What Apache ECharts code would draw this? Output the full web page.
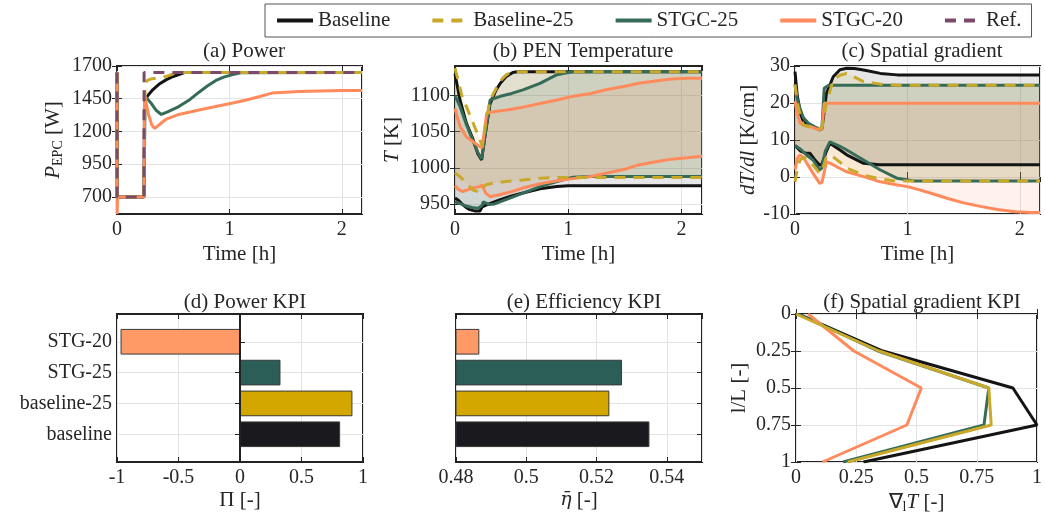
<!DOCTYPE html>
<html>
<head>
<meta charset="utf-8">
<script src="https://cdn.jsdelivr.net/npm/echarts@6/dist/echarts.min.js"></script>
<style>
  html, body { margin: 0; padding: 0; background: #fff; }
  #chart { width: 1045px; height: 522px; }
</style>
</head>
<body>
<div id="chart"></div>
<script>
// ---------- data ----------
// (a) power [W] over time [h]
const tA_ref = [0, 0.001, 0.24, 0.241, 2.18];
const pA_ref = [1650, 700, 700, 1650, 1650];
const tA_base = [0, 0.002, 0.24, 0.245, 0.28, 0.32, 0.38, 0.44, 0.5, 0.55, 0.6, 2.18];
const pA_base = [1650, 700, 700, 1440, 1480, 1520, 1565, 1596, 1620, 1635, 1650, 1650];
const tA_b25 = [0, 0.002, 0.24, 0.25, 0.27, 0.3, 0.35, 0.4, 0.45, 0.5, 0.55, 2.18];
const pA_b25 = [1650, 700, 700, 1560, 1590, 1600, 1607, 1612, 1625, 1640, 1650, 1650];
const tA_s25 = [0, 0.002, 0.24, 0.25, 0.3, 0.35, 0.395, 0.45, 0.55, 0.65, 0.73, 0.8, 0.88, 0.95, 1.02, 1.1, 2.18];
const pA_s25 = [1650, 700, 700, 1470, 1420, 1360, 1330, 1350, 1390, 1445, 1500, 1545, 1590, 1615, 1632, 1648, 1650];
const tA_s20 = [0, 0.001, 0.005, 0.02, 0.24, 0.245, 0.28, 0.31, 0.336, 0.38, 0.44, 0.55, 0.73, 0.9, 1.03, 1.15, 1.27, 1.38, 1.5, 1.62, 1.8, 2.0, 2.18];
const pA_s20 = [1650, 570, 700, 700, 700, 1480, 1330, 1250, 1223, 1255, 1295, 1330, 1364, 1395, 1418, 1440, 1467, 1493, 1500, 1506, 1510, 1513, 1513];

// (b) PEN temperature [K]: upper / lower envelope per case
const tB_baseHi = [0, 0.044, 0.1, 0.16, 0.2, 0.235, 0.27, 0.31, 0.36, 0.4, 0.45, 0.51, 0.55, 2.18];
const vB_baseHi = [1130, 1094, 1062, 1039, 1020, 1011, 1050, 1089, 1107, 1117, 1126, 1132, 1133, 1133];
const tB_baseLo = [0, 0.03, 0.06, 0.1, 0.13, 0.18, 0.22, 0.24, 0.27, 0.3, 0.4, 0.5, 0.6, 0.75, 0.9, 1.0, 2.18];
const vB_baseLo = [958, 955, 950, 945, 942, 940, 940, 946, 948, 950, 956, 961, 965, 971, 974, 975, 975];
const tB_b25Hi = [0, 0.03, 0.06, 0.1, 0.16, 0.22, 0.24, 0.28, 0.31, 0.37, 0.42, 0.455, 0.5, 2.18];
const vB_b25Hi = [1138, 1120, 1100, 1085, 1062, 1039, 1030, 1070, 1094, 1112, 1124, 1129, 1133, 1133];
const tB_b25Lo = [0, 0.04, 0.1, 0.16, 0.22, 0.24, 0.28, 0.35, 0.45, 0.6, 0.75, 0.9, 2.18];
const vB_b25Lo = [993, 988, 979, 969, 966, 972, 977, 979, 981, 983, 985.5, 986.5, 986.5];
const tB_s25Hi = [0, 0.044, 0.1, 0.16, 0.2, 0.235, 0.27, 0.31, 0.4, 0.5, 0.6, 0.75, 0.9, 1.0, 1.04, 2.18];
const vB_s25Hi = [1100, 1085, 1060, 1037, 1022, 1012, 1050, 1094, 1099, 1103, 1108, 1117, 1129, 1132, 1133, 1133];
const tB_s25Lo = [0, 0.05, 0.1, 0.15, 0.2, 0.235, 0.25, 0.3, 0.35, 0.45, 0.6, 0.75, 0.9, 1.04, 1.2, 2.18];
const vB_s25Lo = [953, 950, 947, 945, 944, 947, 953, 949, 950, 956, 965, 974, 981, 987, 988, 988];
const tB_s20Hi = [0, 0.02, 0.045, 0.1, 0.16, 0.22, 0.24, 0.28, 0.35, 0.455, 0.6, 0.75, 0.9, 1.04, 1.2, 1.33, 1.5, 1.62, 1.8, 1.91, 2.05, 2.18];
const vB_s20Hi = [1082, 1070, 1057, 1043, 1036, 1029, 1028, 1076, 1078, 1080, 1084, 1089, 1094, 1099, 1103, 1108, 1113, 1117, 1121, 1123, 1124, 1124];
const tB_s20Lo = [0, 0.03, 0.07, 0.12, 0.16, 0.22, 0.24, 0.27, 0.31, 0.4, 0.5, 0.6, 0.75, 0.9, 1.04, 1.2, 1.33, 1.5, 1.62, 1.8, 1.91, 2.05, 2.18];
const vB_s20Lo = [975, 970, 967, 970, 972, 974, 976, 965, 960, 963, 967, 972, 978, 982, 985, 988, 992.5, 998, 1004, 1009, 1012, 1014, 1016];

// (c) spatial gradient [K/cm]: upper / lower envelope per case
const tC_baseHi = [0, 0.02, 0.05, 0.075, 0.12, 0.18, 0.22, 0.24, 0.28, 0.34, 0.4, 0.46, 0.53, 0.61, 0.76, 0.91, 2.18];
const vC_baseHi = [28.5, 22, 17, 15, 14, 13.3, 12.7, 13, 22.6, 27.1, 29, 29.4, 29.3, 28.9, 28, 27.6, 27.6];
const tC_baseLo = [0, 0.05, 0.09, 0.134, 0.18, 0.22, 0.24, 0.28, 0.31, 0.4, 0.46, 0.61, 0.75, 2.18];
const vC_baseLo = [8.5, 7, 6.5, 6.4, 4.5, 3.2, 3.5, 7, 9.1, 7.3, 6, 3.7, 3.3, 3.3];
const tC_b25Hi = [0, 0.02, 0.045, 0.075, 0.12, 0.18, 0.22, 0.24, 0.28, 0.34, 0.4, 0.46, 0.53, 0.61, 0.76, 0.9, 2.18];
const vC_b25Hi = [25, 20, 17, 14, 13.6, 13.3, 13, 13.5, 20, 26.2, 27.5, 28, 27, 25.8, 25.1, 24.8, 24.8];
const tC_b25Lo = [0, 0.02, 0.045, 0.08, 0.12, 0.16, 0.22, 0.24, 0.28, 0.32, 0.4, 0.46, 0.61, 0.76, 0.9, 2.18];
const vC_b25Lo = [-1.3, 2, 4.6, 5.4, 4.3, 3.2, 1, 1.5, 5.5, 5.9, 4, 2.4, 0.5, -0.5, -1.1, -1.1];
const tC_s25Hi = [0, 0.02, 0.05, 0.075, 0.12, 0.18, 0.22, 0.24, 0.26, 0.3, 2.18];
const vC_s25Hi = [25, 21, 18, 16, 14.5, 13.5, 13, 13.5, 24, 24.8, 24.8];
const tC_s25Lo = [0, 0.05, 0.1, 0.16, 0.22, 0.24, 0.27, 0.31, 0.4, 0.46, 0.61, 0.76, 0.91, 1.06, 2.18];
const vC_s25Lo = [8.5, 7.5, 6, 4.6, 1.9, 2.5, 7, 9.5, 8.3, 7.3, 4.6, 1.9, -0.35, -1.1, -1.1];
const tC_s20Hi = [0, 0.02, 0.045, 0.08, 0.15, 0.22, 0.24, 0.26, 2.18];
const vC_s20Hi = [20.5, 17, 14.5, 14, 13.5, 12.7, 13, 19.9, 19.9];
const tC_s20Lo = [0, 0.02, 0.045, 0.08, 0.12, 0.16, 0.22, 0.24, 0.28, 0.32, 0.4, 0.46, 0.61, 0.76, 0.9, 1.0, 1.1, 1.21, 1.36, 1.5, 1.66, 1.8, 1.96, 2.1, 2.18];
const vC_s20Lo = [2, 5, 6, 5, 3, 1, -1.7, -1.5, 4.1, 3.6, 2.3, 1.4, 0.1, -1.3, -2.1, -2.6, -3.4, -4.4, -5.8, -7, -8, -8.8, -9.4, -9.6, -9.6];

// (d), (e) KPIs, bottom to top
const kpiNames = ['baseline', 'baseline-25', 'STG-25', 'STG-20'];
const kpiPos = [1, 2, 3, 4];
const powerKpi = [0.81, 0.91, 0.325, -0.967];
const effKpi = [0.5349, 0.5235, 0.5271, 0.4865];

// (f) spatial gradient KPI along l/L
const lPos = [0, 0.25, 0.5, 0.75, 1];
const gBase = [0.01, 0.36, 0.9, 1.0, 0.28];
const gB25 = [0, 0.345, 0.8, 0.81, 0.215];
const gS25 = [0.01, 0.34, 0.8, 0.78, 0.195];
const gS20 = [0.05, 0.24, 0.52, 0.46, 0.11];

// tick labels
const powerTicks = [700, 950, 1200, 1450, 1700];
const tempTicks = [950, 1000, 1050, 1100];

// ---------- styling ----------
const FONT = 'Liberation Serif';
const INK = '#262626';
const C_BASE = '#141414', C_B25 = '#c9a92a', C_S25 = '#366b58', C_S20 = '#ff8a5c', C_REF = '#7b4a6b';
const kpiColors = ['#1a1a1e', '#d4a600', '#2a5e56', '#ff9a66'];
const BAND = {
  base: 'rgba(60,60,60,0.13)',
  b25: 'rgba(201,169,42,0.12)',
  s25: 'rgba(54,107,88,0.12)',
  s20: 'rgba(255,138,92,0.12)'
};
const BAR_H = 0.8;
const EFF_MIN = 0.48;

const chart = echarts.init(document.getElementById('chart'), null, { renderer: 'canvas' });

const pairs = (t, v) => t.map((x, i) => [x, v[i]]);

function line(name, gi, t, v, color, dashed, z) {
  return {
    type: 'line', name, xAxisIndex: gi, yAxisIndex: gi,
    data: pairs(t, v), symbol: 'none', showSymbol: false, silent: true, z: z || 3,
    lineStyle: { color, width: 3, type: dashed ? [11, 8] : 'solid' },
    itemStyle: { color }
  };
}

// shaded band between an upper and a lower curve
function band(gi, tHi, hi, tLo, lo, fill) {
  return {
    type: 'custom', xAxisIndex: gi, yAxisIndex: gi, silent: true, z: 1,
    data: [[tHi[0], hi[0]]],
    renderItem: (params, api) => {
      const pts = tHi.map((t, i) => api.coord([t, hi[i]]));
      for (let i = tLo.length - 1; i >= 0; i--) pts.push(api.coord([tLo[i], lo[i]]));
      return { type: 'polygon', shape: { points: pts }, style: { fill } };
    }
  };
}

function bars(gi, vals, base, extra) {
  return Object.assign({
    type: 'custom', xAxisIndex: gi, yAxisIndex: gi, silent: true, z: 3,
    encode: { x: 0, y: 1 },
    data: kpiPos.map((p, i) => [vals[i], p, i]),
    renderItem: (params, api) => {
      const v = api.value(0), p = api.value(1), i = api.value(2);
      const a = api.coord([base, p + BAR_H / 2]);
      const b = api.coord([v, p - BAR_H / 2]);
      return {
        type: 'rect',
        shape: { x: Math.min(a[0], b[0]), y: a[1], width: Math.abs(b[0] - a[0]), height: b[1] - a[1] },
        style: { fill: kpiColors[i], stroke: '#3a3a3a', lineWidth: 1 }
      };
    }
  }, extra || {});
}

const txt = { fontFamily: FONT, fontSize: 20, color: INK };
const txtBig = { fontFamily: FONT, fontSize: 21, color: INK };
const rich = {
  i: { fontFamily: FONT, fontSize: 21, color: INK, fontStyle: 'italic' },
  e: { fontFamily: 'DejaVu Serif', fontSize: 19, color: INK, fontStyle: 'italic' },
  s: { fontFamily: FONT, fontSize: 14, color: INK, padding: [10, 0, 0, 0] }
};
const TICK = { show: true, inside: true, length: 5, lineStyle: { color: INK, width: 1 } };

function axis(opts) {
  return Object.assign({
    type: 'value',
    nameLocation: 'middle',
    nameTextStyle: Object.assign({}, txtBig, { rich }),
    axisLine: { show: false },
    axisTick: TICK,
    axisLabel: Object.assign({}, txt, { margin: 6 }),
    splitLine: { show: true, lineStyle: { color: '#e3e3e3', width: 1 } }
  }, opts);
}

// MATLAB-style box: same scale mirrored on top / right, ticks only
function mirror(ax, position) {
  return Object.assign({}, ax, {
    position, name: '',
    axisLabel: Object.assign({}, ax.axisLabel, { show: false }),
    splitLine: { show: false }
  });
}

const grids = [
  { left: 117, top: 66, width: 245, height: 148 },
  { left: 455, top: 66, width: 247, height: 148 },
  { left: 795, top: 66, width: 245, height: 148 },
  { left: 117, top: 314, width: 246, height: 148 },
  { left: 456, top: 314, width: 246, height: 148 },
  { left: 796, top: 314, width: 243, height: 148 }
].map(g => Object.assign(g, { show: true, borderColor: '#222', borderWidth: 2, backgroundColor: '#fff' }));

const timeX = gi => axis({ gridIndex: gi, min: 0, max: 2.18, interval: 1, name: 'Time [h]', nameGap: 30 });
const plain = v => String(v);

const xAxes = [
  timeX(0), timeX(1), timeX(2),
  axis({ gridIndex: 3, min: -1, max: 1, interval: 0.5, name: 'Π [-]', nameGap: 28 }),
  axis({ gridIndex: 4, min: EFF_MIN, max: 0.55, interval: 0.02, name: '{e|η̄} [-]', nameGap: 28,
    axisLabel: Object.assign({}, txt, { margin: 6, showMaxLabel: false }) }),
  axis({ gridIndex: 5, min: 0, max: 1, interval: 0.25, name: '∇{s|l}{i|T} [-]', nameGap: 28 })
];

const yAxes = [
  axis({ gridIndex: 0, min: 570, max: 1700, name: '{i|P}{s|EPC} [W]', nameGap: 52,
    axisLabel: Object.assign({}, txt, { margin: 5, customValues: powerTicks, formatter: plain }),
    axisTick: Object.assign({}, TICK, { customValues: powerTicks }) }),
  axis({ gridIndex: 1, min: 936, max: 1141, name: '{i|T} [K]', nameGap: 52,
    axisLabel: Object.assign({}, txt, { margin: 5, customValues: tempTicks, formatter: plain }),
    axisTick: Object.assign({}, TICK, { customValues: tempTicks }) }),
  axis({ gridIndex: 2, min: -10, max: 30, interval: 10, name: '{i|dT/dl} [K/cm]', nameGap: 36,
    axisLabel: Object.assign({}, txt, { margin: 5 }) }),
  axis({ gridIndex: 3, min: 0.1, max: 4.9,
    axisLabel: Object.assign({}, txt, { margin: 5, customValues: kpiPos, formatter: v => kpiNames[Math.round(v) - 1] }),
    axisTick: Object.assign({}, TICK, { customValues: kpiPos }) }),
  axis({ gridIndex: 4, min: 0.1, max: 4.9,
    axisLabel: { show: false, customValues: kpiPos },
    axisTick: Object.assign({}, TICK, { customValues: kpiPos }) }),
  axis({ gridIndex: 5, min: 0, max: 1, interval: 0.25, inverse: true, name: 'l/L [-]', nameGap: 46,
    axisLabel: Object.assign({}, txt, { margin: 5 }) })
];

const allX = xAxes.concat(xAxes.map(a => mirror(a, 'top')));
const allY = yAxes.concat(yAxes.map(a => mirror(a, 'right')));

const titles = [
  ['(a) Power', 239, 36], ['(b) PEN Temperature', 578, 36], ['(c) Spatial gradient', 917, 36],
  ['(d) Power KPI', 240, 287], ['(e) Efficiency KPI', 579, 287], ['(f) Spatial gradient KPI', 917, 287]
].map(([text, x, y]) => ({ text, left: x, top: y, textAlign: 'center', textStyle: Object.assign({}, txtBig, { fontWeight: 'normal' }) }));

const series = [
  // (a)
  line('Baseline', 0, tA_base, pA_base, C_BASE, false, 3),
  line('Baseline-25', 0, tA_b25, pA_b25, C_B25, true, 4),
  line('STGC-25', 0, tA_s25, pA_s25, C_S25, false, 3),
  line('STGC-20', 0, tA_s20, pA_s20, C_S20, false, 3),
  line('Ref.', 0, tA_ref, pA_ref, C_REF, true, 5),
  // (b)
  band(1, tB_baseHi, vB_baseHi, tB_baseLo, vB_baseLo, BAND.base),
  band(1, tB_s25Hi, vB_s25Hi, tB_s25Lo, vB_s25Lo, BAND.s25),
  band(1, tB_b25Hi, vB_b25Hi, tB_b25Lo, vB_b25Lo, BAND.b25),
  band(1, tB_s20Hi, vB_s20Hi, tB_s20Lo, vB_s20Lo, BAND.s20),
  line('Baseline', 1, tB_baseHi, vB_baseHi, C_BASE),
  line('Baseline', 1, tB_baseLo, vB_baseLo, C_BASE),
  line('STGC-25', 1, tB_s25Hi, vB_s25Hi, C_S25),
  line('STGC-25', 1, tB_s25Lo, vB_s25Lo, C_S25),
  line('STGC-20', 1, tB_s20Hi, vB_s20Hi, C_S20),
  line('STGC-20', 1, tB_s20Lo, vB_s20Lo, C_S20),
  line('Baseline-25', 1, tB_b25Hi, vB_b25Hi, C_B25, true, 4),
  line('Baseline-25', 1, tB_b25Lo, vB_b25Lo, C_B25, true, 4),
  // (c)
  band(2, tC_baseHi, vC_baseHi, tC_baseLo, vC_baseLo, BAND.base),
  band(2, tC_s25Hi, vC_s25Hi, tC_s25Lo, vC_s25Lo, BAND.s25),
  band(2, tC_b25Hi, vC_b25Hi, tC_b25Lo, vC_b25Lo, BAND.b25),
  band(2, tC_s20Hi, vC_s20Hi, tC_s20Lo, vC_s20Lo, BAND.s20),
  line('Baseline', 2, tC_baseHi, vC_baseHi, C_BASE),
  line('Baseline', 2, tC_baseLo, vC_baseLo, C_BASE),
  line('STGC-25', 2, tC_s25Hi, vC_s25Hi, C_S25),
  line('STGC-25', 2, tC_s25Lo, vC_s25Lo, C_S25),
  line('STGC-20', 2, tC_s20Hi, vC_s20Hi, C_S20),
  line('STGC-20', 2, tC_s20Lo, vC_s20Lo, C_S20),
  line('Baseline-25', 2, tC_b25Hi, vC_b25Hi, C_B25, true, 4),
  line('Baseline-25', 2, tC_b25Lo, vC_b25Lo, C_B25, true, 4),
  // (d)
  bars(3, powerKpi, 0, {
    markLine: { silent: true, symbol: 'none', label: { show: false },
      lineStyle: { color: '#222', width: 2, type: 'solid' }, data: [{ xAxis: 0 }] }
  }),
  // (e)
  bars(4, effKpi, EFF_MIN),
  // (f)
  line('Baseline', 5, gBase, lPos, C_BASE),
  line('STGC-25', 5, gS25, lPos, C_S25),
  line('STGC-20', 5, gS20, lPos, C_S20),
  { ...line('Baseline-25', 5, gB25, lPos, C_B25), lineStyle: { color: C_B25, width: 3, type: 'solid' } }
];

chart.setOption({
  animation: false,
  backgroundColor: '#fff',
  title: titles,
  legend: {
    data: ['Baseline', 'Baseline-25', 'STGC-25', 'STGC-20', 'Ref.'],
    left: 265, top: 4,
    padding: [6, 10],
    itemWidth: 36, itemHeight: 10, itemGap: 40,
    itemStyle: { opacity: 0 },
    lineStyle: { width: 4 },
    borderColor: '#555', borderWidth: 1, borderRadius: 0,
    textStyle: Object.assign({}, txtBig, { padding: [0, 0, 0, 0] }),
    selectedMode: false
  },
  grid: grids,
  xAxis: allX,
  yAxis: allY,
  series
});
</script>
</body>
</html>
